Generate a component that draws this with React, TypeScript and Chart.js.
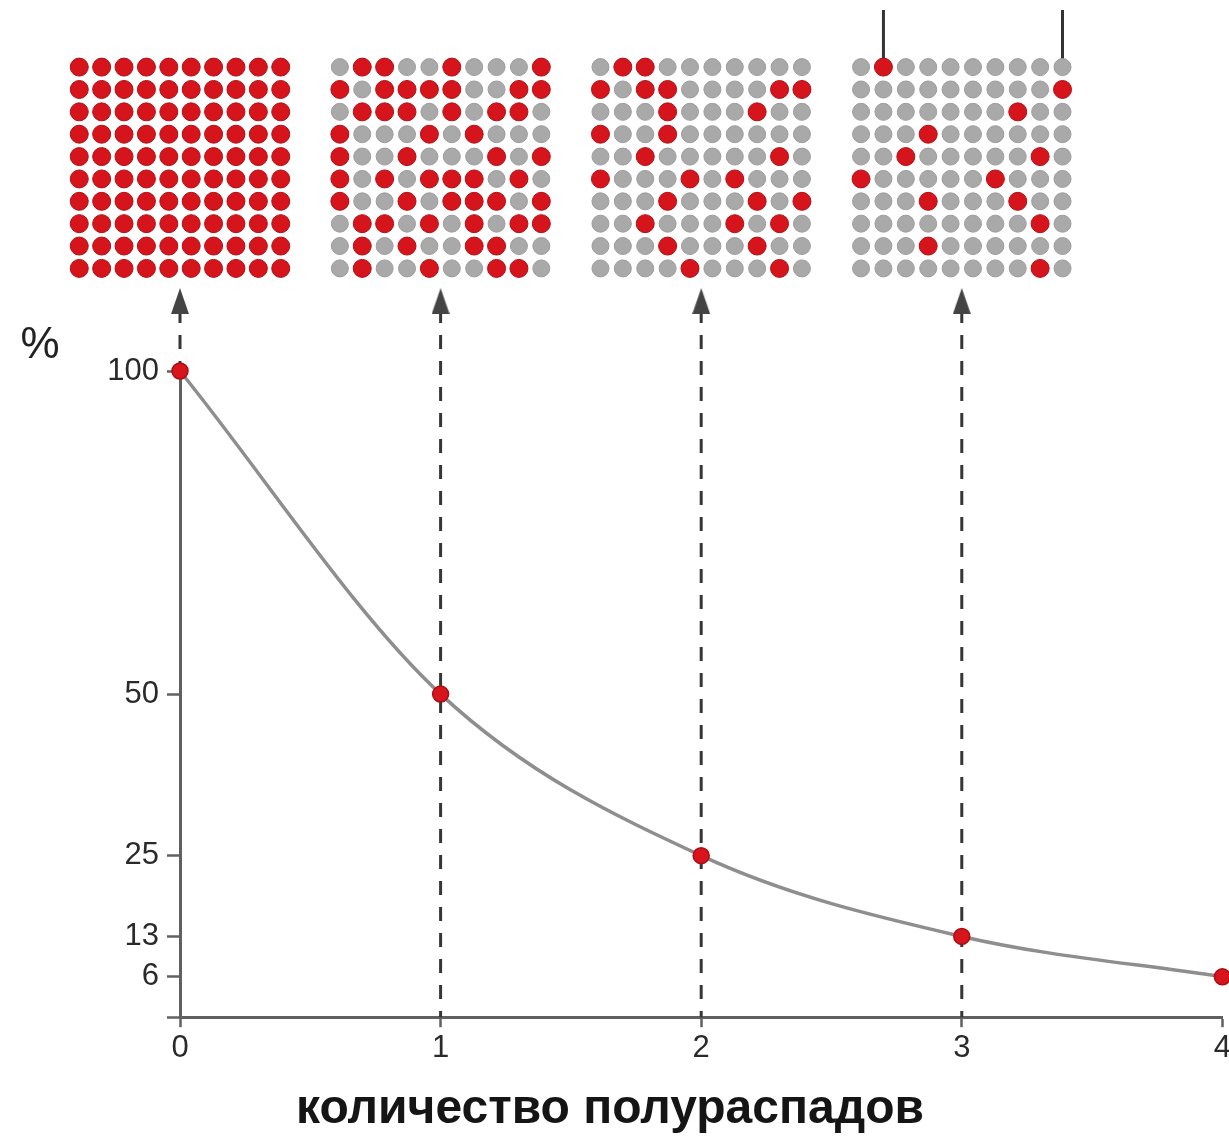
import React, { useEffect, useRef } from 'react';
import { Chart, registerables } from 'chart.js';

Chart.register(...registerables);

// ---------------- data ----------------
const HALF_LIVES = [0, 1, 2, 3, 4];
const PERCENT_REMAINING = [100, 50, 25, 12.5, 6.25];
const X_TICK_LABELS = ['0', '1', '2', '3', '4'];
const Y_TICK_VALUES = [0, 6.25, 12.5, 25, 50, 100];
const Y_TICK_LABELS = ['', '6', '13', '25', '50', '100'];
const Y_UNIT = '%';
const X_TITLE = 'количество полураспадов';

// dashed arrows: x position and the value they start from
const ARROW_X = [0, 1, 2, 3];
const ARROW_FROM = [100, 0, 0, 0];

// 10x10 atom grids after 0..3 half-lives (1 = undecayed / red, 0 = decayed / grey)
const GRID_0 = [
  '1111111111',
  '1111111111',
  '1111111111',
  '1111111111',
  '1111111111',
  '1111111111',
  '1111111111',
  '1111111111',
  '1111111111',
  '1111111111',
];
const GRID_1 = [
  '0110010001',
  '1011110011',
  '0111010110',
  '1000101000',
  '1001000101',
  '1010111010',
  '1001011101',
  '0110101011',
  '0101001100',
  '0100100110',
];
const GRID_2 = [
  '0110000000',
  '1011000011',
  '0001000100',
  '1001000000',
  '0010000010',
  '1000101000',
  '0001000101',
  '0010001010',
  '0001000100',
  '0000100010',
];
const GRID_3 = [
  '0100000000',
  '0000000001',
  '0000000100',
  '0001000000',
  '0010000010',
  '1000001000',
  '0001000100',
  '0000000010',
  '0001000000',
  '0000000010',
];
const GRIDS = [GRID_0, GRID_1, GRID_2, GRID_3];
// leader lines above the last grid point at these columns
const POINTER_GRID = 3;
const POINTER_COLS = [1, 9];

// ---------------- layout / style ----------------
const FONT = "'Liberation Sans', Arial, Helvetica, sans-serif";
const VIEW_W = 1229;
const CANVAS_W = 1234;
const CANVAS_H = 1139;
const TOP_H = 340;
const AXIS_COLOR = '#606060';
const TICK_TEXT = '#2a2a2a';
const CELL_DX = 0.0859; // column spacing in half-life units
const DASH_TOP = 109.6; // in % units (above the 100 line)
const GRID_X_MIN = -0.5;
const GRID_X_MAX = 3.5;
const GRID_Y_MIN = -3;
const GRID_Y_MAX = 12.2;
const ARROW_ROW = 10.46;
const POINTER_TOP_ROW = -2.55;

const unitLabelPlugin = {
  id: 'unitLabel',
  afterDraw(chart: any) {
    const ctx = chart.ctx;
    const y = chart.scales.y;
    ctx.save();
    ctx.font = `44px ${FONT}`;
    ctx.fillStyle = '#222';
    ctx.textAlign = 'center';
    ctx.textBaseline = 'middle';
    ctx.fillText(Y_UNIT, chart.chartArea.left - 140, y.getPixelForValue(100) - 25);
    ctx.restore();
  },
};

function makeArrowImage(): HTMLCanvasElement {
  const c = document.createElement('canvas');
  c.width = 18;
  c.height = 26;
  const g = c.getContext('2d')!;
  g.fillStyle = '#444';
  g.beginPath();
  g.moveTo(9, 0);
  g.lineTo(18, 26);
  g.lineTo(0, 26);
  g.closePath();
  g.fill();
  return c;
}

export default function App() {
  const mainRef = useRef<HTMLCanvasElement>(null);
  const topRef = useRef<HTMLCanvasElement>(null);

  useEffect(() => {
    document.body.style.margin = '0';
    if (!mainRef.current || !topRef.current) return;

    const main = new Chart(mainRef.current, {
      type: 'line',
      data: {
        datasets: [
          {
            label: 'curve',
            data: HALF_LIVES.map((x, i) => ({ x, y: PERCENT_REMAINING[i] })),
            borderColor: '#8e8e8e',
            borderWidth: 3.5,
            cubicInterpolationMode: 'monotone',
            pointRadius: 8,
            pointBackgroundColor: '#d8141c',
            pointBorderColor: '#a80f14',
            pointBorderWidth: 1.5,
            clip: false,
            order: 1,
          } as any,
          ...ARROW_X.map((x, i) => ({
            label: 'arrow' + i,
            data: [
              { x, y: DASH_TOP },
              { x, y: ARROW_FROM[i] },
            ],
            borderColor: '#363636',
            borderWidth: 3,
            borderDash: [14, 12],
            pointRadius: 0,
            clip: false,
            order: 2,
          })),
        ],
      },
      options: {
        responsive: false,
        animation: false,
        events: [],
        layout: { autoPadding: false, padding: { top: 371, left: -14, right: 0, bottom: 0 } },
        plugins: {
          legend: { display: false },
          tooltip: { enabled: false },
          title: {
            display: true,
            position: 'bottom',
            text: X_TITLE,
            color: '#151515',
            font: { family: FONT, size: 48, weight: 'bold', lineHeight: 1.2 },
            padding: { top: 11, bottom: 0 },
          },
        },
        scales: {
          x: {
            type: 'linear',
            min: 0,
            max: 4,
            afterBuildTicks: (ax: any) => {
              ax.ticks = HALF_LIVES.map((v) => ({ value: v }));
            },
            ticks: {
              autoSkip: false,
              maxRotation: 0,
              padding: 3,
              color: TICK_TEXT,
              font: { family: FONT, size: 31 },
              callback: (v: any) => {
                const i = HALF_LIVES.indexOf(Number(v));
                return i >= 0 ? X_TICK_LABELS[i] : '';
              },
            },
            grid: {
              drawOnChartArea: false,
              drawTicks: true,
              tickLength: 10,
              color: AXIS_COLOR,
              tickColor: AXIS_COLOR,
              tickWidth: 2.5,
            },
            border: { display: true, color: AXIS_COLOR, width: 3 },
          },
          y: {
            type: 'linear',
            min: 0,
            max: 100,
            afterBuildTicks: (ax: any) => {
              ax.ticks = Y_TICK_VALUES.map((v) => ({ value: v }));
            },
            afterFit: (ax: any) => {
              ax.width = 194;
            },
            ticks: {
              autoSkip: false,
              padding: 8,
              color: TICK_TEXT,
              font: { family: FONT, size: 31 },
              callback: (v: any) => {
                const i = Y_TICK_VALUES.indexOf(Number(v));
                return i >= 0 ? Y_TICK_LABELS[i] : '';
              },
            },
            grid: {
              drawOnChartArea: false,
              drawTicks: true,
              tickLength: 13,
              color: AXIS_COLOR,
              tickColor: AXIS_COLOR,
              tickWidth: 2.5,
            },
            border: { display: true, color: AXIS_COLOR, width: 3 },
          },
        },
      } as any,
      plugins: [unitLabelPlugin],
    });

    // grid chart aligned to the main x scale
    const mx = main.scales.x;
    const padLeft = mx.getPixelForValue(GRID_X_MIN);
    const padRight = CANVAS_W - mx.getPixelForValue(GRID_X_MAX);

    const red: { x: number; y: number }[] = [];
    const grey: { x: number; y: number }[] = [];
    GRIDS.forEach((grid, k) =>
      grid.forEach((row, r) =>
        row.split('').forEach((ch, c) => {
          const p = { x: HALF_LIVES[k] + (c - 4.5) * CELL_DX, y: r };
          (ch === '1' ? red : grey).push(p);
        })
      )
    );

    const arrowImg = makeArrowImage();

    const top = new Chart(topRef.current, {
      type: 'scatter',
      data: {
        datasets: [
          {
            label: 'red',
            data: red,
            pointRadius: 9,
            pointBackgroundColor: '#d6141b',
            pointBorderColor: '#b20f15',
            pointBorderWidth: 1,
            order: 0,
          },
          {
            label: 'grey',
            data: grey,
            pointRadius: 8.5,
            pointBackgroundColor: '#a9a9a9',
            pointBorderColor: '#9c9c9c',
            pointBorderWidth: 1,
            order: 0,
          },
          {
            label: 'arrowheads',
            data: ARROW_X.map((x) => ({ x, y: ARROW_ROW })),
            pointStyle: arrowImg as any,
            pointRadius: 10,
            order: 0,
          },
          ...POINTER_COLS.map((c) => ({
            label: 'pointer' + c,
            type: 'line' as const,
            data: [
              { x: HALF_LIVES[POINTER_GRID] + (c - 4.5) * CELL_DX, y: POINTER_TOP_ROW },
              { x: HALF_LIVES[POINTER_GRID] + (c - 4.5) * CELL_DX, y: 0 },
            ],
            borderColor: '#333',
            borderWidth: 3,
            pointRadius: 0,
            showLine: true,
            order: 1,
          })),
        ],
      },
      options: {
        responsive: false,
        animation: false,
        events: [],
        layout: { autoPadding: false, padding: { top: 0, bottom: 0, left: padLeft, right: padRight } },
        plugins: { legend: { display: false }, tooltip: { enabled: false } },
        scales: {
          x: { type: 'linear', display: false, min: GRID_X_MIN, max: GRID_X_MAX },
          y: { type: 'linear', display: false, reverse: true, min: GRID_Y_MIN, max: GRID_Y_MAX },
        },
      } as any,
    });

    return () => {
      top.destroy();
      main.destroy();
    };
  }, []);

  return (
    <div
      style={{
        position: 'relative',
        width: VIEW_W,
        height: CANVAS_H,
        overflow: 'hidden',
        background: '#fff',
      }}
    >
      <canvas
        ref={mainRef}
        width={CANVAS_W}
        height={CANVAS_H}
        style={{ position: 'absolute', left: 0, top: 0, display: 'block' }}
      />
      <canvas
        ref={topRef}
        width={CANVAS_W}
        height={TOP_H}
        style={{ position: 'absolute', left: 0, top: 0, display: 'block', pointerEvents: 'none' }}
      />
    </div>
  );
}
